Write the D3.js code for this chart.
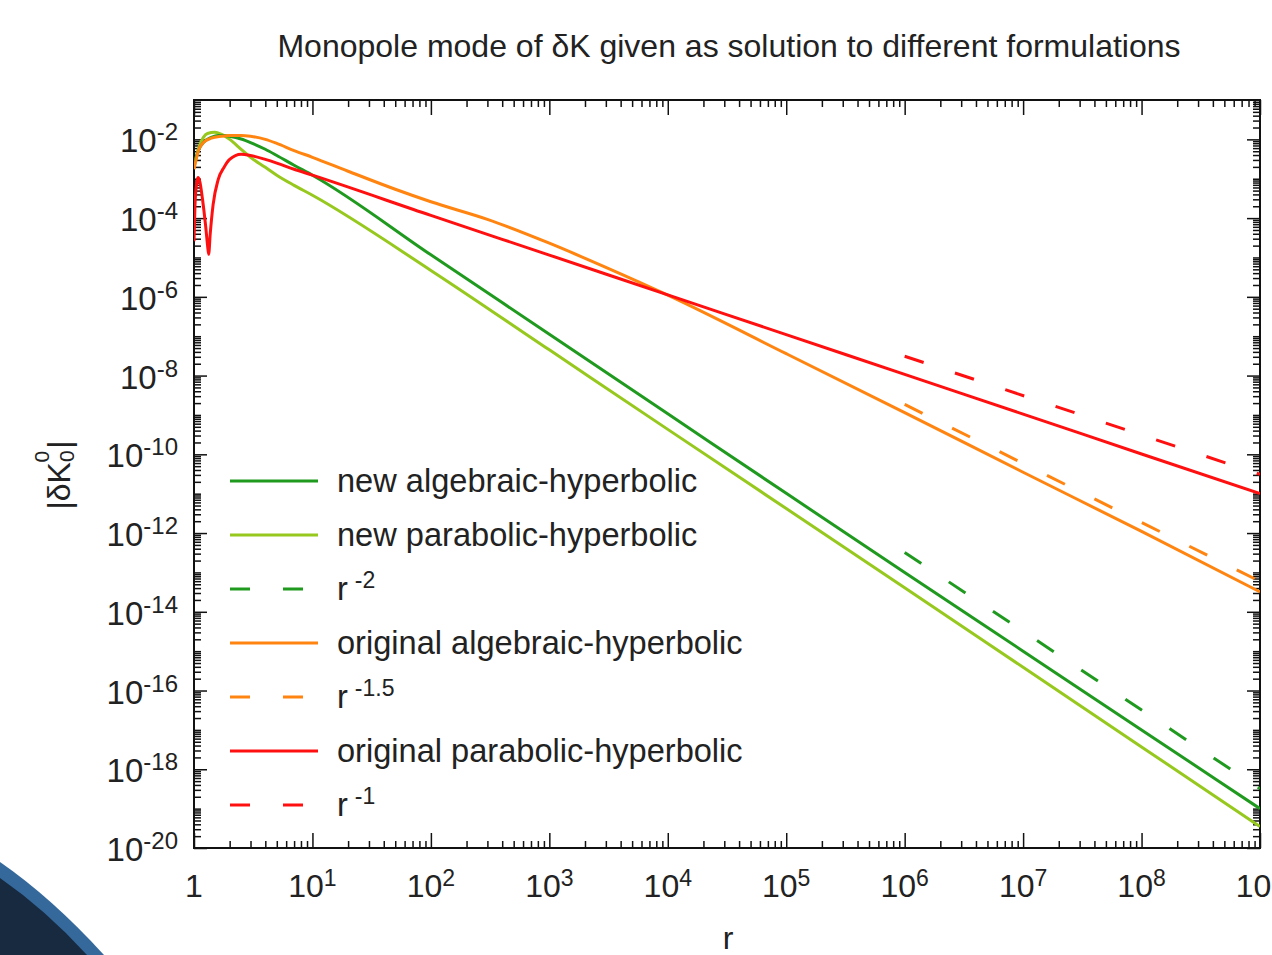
<!DOCTYPE html>
<html lang="en">
<head>
<meta charset="UTF-8">
<title>Monopole mode of dK</title>
<script src="https://d3js.org/d3.v7.min.js"></script>
<style>
    body { margin: 0; background: #fff; }
    text { font-family: "Liberation Sans", Arial, sans-serif; fill: #222; }
</style>
</head>
<body>
<svg id="chart" width="1272" height="955"></svg>
<script>
// ---- data ----
const xTicks = [1, 1e1, 1e2, 1e3, 1e4, 1e5, 1e6, 1e7, 1e8, 1e9];
const xTickExp = ["", "1", "2", "3", "4", "5", "6", "7", "8", "9"];
const yTicks = [1e-20, 1e-18, 1e-16, 1e-14, 1e-12, 1e-10, 1e-8, 1e-6, 1e-4, 1e-2];
const yTickExp = ["-20", "-18", "-16", "-14", "-12", "-10", "-8", "-6", "-4", "-2"];

const newAlgR = [1, 1.1, 1.2, 1.4, 1.6, 1.8, 2, 2.5, 3, 4, 5, 7, 10, 1e2, 1e3, 1e4, 1e5, 1e6, 1e7, 1e8, 1e9];
const newAlgV = [2.3e-3, 5.6e-3, 8.3e-3, 1.12e-2, 1.26e-2, 1.26e-2, 1.2e-2, 1.02e-2, 8.3e-3, 5.6e-3, 3.9e-3, 2.2e-3, 1.23e-3,
                 1.17e-5, 1.12e-7, 1.07e-9, 1.02e-11, 1.0e-13, 1.0e-15, 1.0e-17, 1.0e-19];

const newParR = [1, 1.1, 1.2, 1.3, 1.5, 1.7, 2, 2.5, 3, 4, 5, 7, 10, 1e2, 1e3, 1e4, 1e5, 1e6, 1e7, 1e8, 1e9];
const newParV = [1.95e-3, 6.3e-3, 1.12e-2, 1.41e-2, 1.51e-2, 1.35e-2, 1.0e-2, 5.6e-3, 3.5e-3, 1.95e-3, 1.23e-3, 6.8e-4, 3.8e-4,
                 4.7e-6, 4.5e-8, 4.3e-10, 4.2e-12, 4.1e-14, 3.9e-16, 3.7e-18, 3.5e-20];

const origAlgR = [1, 1.1, 1.2, 1.4, 1.7, 2, 2.5, 3, 4, 5, 7, 10, 20, 50, 100, 300, 1e3, 3e3, 1e4, 1e5, 1e6, 1e7, 1e8, 1e9];
const origAlgV = [1.74e-3, 5.6e-3, 8.3e-3, 1.07e-2, 1.2e-2, 1.26e-2, 1.26e-2, 1.2e-2, 1.0e-2, 7.9e-3, 5.2e-3, 3.5e-3, 1.55e-3,
                  5.4e-4, 2.6e-4, 9.3e-5, 2.3e-5, 5.6e-6, 1.1e-6, 3.6e-8, 1.15e-9, 3.5e-11, 1.1e-12, 3.2e-14];

const origParR = [1, 1.02, 1.05, 1.08, 1.12, 1.18, 1.25, 1.3, 1.33, 1.37, 1.45, 1.6, 1.8, 2, 2.5, 3, 4, 5, 7, 10,
                  1e2, 1e3, 1e4, 1e5, 1e6, 1e7, 1e8, 1e9];
const origParV = [2.6e-5, 2.2e-4, 7.2e-4, 1.07e-3, 8.5e-4, 3.0e-4, 6.9e-5, 2.1e-5, 1.2e-5, 3.9e-5, 2.2e-4, 9.5e-4, 2.0e-3,
                  3.1e-3, 4.2e-3, 3.9e-3, 3.1e-3, 2.5e-3, 1.74e-3, 1.23e-3,
                  1.17e-4, 1.15e-5, 1.12e-6, 1.1e-7, 1.07e-8, 1.05e-9, 1.02e-10, 1.0e-11];

const refR = [1e6, 1e9];
const refR2 = [3.2e-13, 3.2e-19];
const refR15 = [1.85e-9, 5.9e-14];
const refR1 = [3.1e-8, 3.1e-11];

const legendLabels = ["new algebraic-hyperbolic", "new parabolic-hyperbolic", "r", "original algebraic-hyperbolic", "r", "original parabolic-hyperbolic", "r"];
const legendExp = [null, null, "-2", null, "-1.5", null, "-1"];

// ---- styles ----
const darkGreen = "#1f9a1f", lightGreen = "#96c81e", orange = "#ff8410", red = "#ff1010";
const series = [
    { r: newAlgR, v: newAlgV, color: darkGreen, dash: null },
    { r: newParR, v: newParV, color: lightGreen, dash: null },
    { r: refR, v: refR2, color: darkGreen, dash: "20,33" },
    { r: origAlgR, v: origAlgV, color: orange, dash: null },
    { r: refR, v: refR15, color: orange, dash: "20,33" },
    { r: origParR, v: origParV, color: red, dash: null },
    { r: refR, v: refR1, color: red, dash: "20,33" }
];

const svg = d3.select('#chart');
const pLeft = 194, pRight = 1260, pTop = 100, pBottom = 848;

const x = d3.scaleLog().domain([1, 1e9]).range([pLeft, pRight]);
const y = d3.scaleLog().domain([1e-20, 1e-1]).range([pBottom, pTop]);

// slide decoration bottom-left
svg.append('path')
    .attr('d', 'M0,862 Q52,898 104,955 L0,955 Z')
    .attr('fill', '#35699b');
svg.append('path')
    .attr('d', 'M0,878 Q46,910 87,955 L0,955 Z')
    .attr('fill', '#172a40');

// title
svg.append('text')
    .attr('x', 729).attr('y', 57)
    .attr('text-anchor', 'middle')
    .attr('font-size', '32px')
    .text('Monopole mode of δK given as solution to different formulations');

// minor tick values
const xMinor = [];
for (let k = 0; k < 9; k++) for (let d = 2; d <= 9; d++) xMinor.push(d * Math.pow(10, k));
const yMinor = [];
for (let k = -20; k < -1; k++) for (let d = 1; d <= 9; d++) {
    if (d === 1 && k % 2 === 0) continue;
    yMinor.push(d * Math.pow(10, k));
}

function tickAxis(axis, tr) {
    const g = svg.append('g').attr('transform', tr).call(axis);
    g.select('.domain').remove();
    g.selectAll('line').attr('stroke', '#111').attr('stroke-width', 1.5);
    g.selectAll('text').remove();
}
tickAxis(d3.axisBottom(x).tickValues(xTicks).tickSize(-15), `translate(0,${pBottom})`);
tickAxis(d3.axisBottom(x).tickValues(xMinor).tickSize(-7), `translate(0,${pBottom})`);
tickAxis(d3.axisTop(x).tickValues(xTicks).tickSize(-15), `translate(0,${pTop})`);
tickAxis(d3.axisTop(x).tickValues(xMinor).tickSize(-7), `translate(0,${pTop})`);
tickAxis(d3.axisLeft(y).tickValues(yTicks).tickSize(-13), `translate(${pLeft},0)`);
tickAxis(d3.axisLeft(y).tickValues(yMinor).tickSize(-7), `translate(${pLeft},0)`);
tickAxis(d3.axisRight(y).tickValues(yTicks).tickSize(-13), `translate(${pRight},0)`);
tickAxis(d3.axisRight(y).tickValues(yMinor).tickSize(-7), `translate(${pRight},0)`);

// frame
svg.append('rect')
    .attr('x', pLeft).attr('y', pTop)
    .attr('width', pRight - pLeft).attr('height', pBottom - pTop)
    .attr('fill', 'none').attr('stroke', '#111').attr('stroke-width', 2);

// x tick labels
xTicks.forEach((t, i) => {
    const txt = svg.append('text')
        .attr('x', x(t)).attr('y', 897)
        .attr('text-anchor', 'middle')
        .attr('font-size', '32px');
    if (i === 0) { txt.text('1'); return; }
    txt.append('tspan').text('10');
    txt.append('tspan').attr('dy', -11).attr('font-size', '23px').text(xTickExp[i]);
});

// y tick labels
yTicks.forEach((t, i) => {
    const txt = svg.append('text')
        .attr('x', 178).attr('y', y(t) + 13)
        .attr('text-anchor', 'end')
        .attr('font-size', '33px');
    txt.append('tspan').text('10');
    txt.append('tspan').attr('dy', -12).attr('font-size', '24px').text(yTickExp[i]);
});

// axis titles
svg.append('text')
    .attr('x', 728).attr('y', 949)
    .attr('text-anchor', 'middle')
    .attr('font-size', '32px')
    .text('r');

const yl = svg.append('text')
    .attr('transform', 'translate(70,475) rotate(-90)')
    .attr('text-anchor', 'middle')
    .attr('font-size', '32px');
yl.append('tspan').text('|δK');
yl.append('tspan').attr('dy', 4).attr('font-size', '21px').text('0');
yl.append('tspan').attr('dx', -12).attr('dy', -25).attr('font-size', '21px').text('0');
yl.append('tspan').attr('dx', 2).attr('dy', 21).text('|');

// curves
svg.append('clipPath').attr('id', 'plotClip')
    .append('rect')
    .attr('x', pLeft).attr('y', pTop)
    .attr('width', pRight - pLeft).attr('height', pBottom - pTop);

const line = d3.line()
    .x(d => x(d[0]))
    .y(d => y(d[1]))
    .curve(d3.curveMonotoneX);

const drawOrder = [6, 4, 2, 1, 0, 3, 5];
const plot = svg.append('g').attr('clip-path', 'url(#plotClip)');
drawOrder.forEach(i => {
    const s = series[i];
    plot.append('path')
        .datum(s.r.map((r, j) => [r, s.v[j]]))
        .attr('d', line)
        .attr('fill', 'none')
        .attr('stroke', s.color)
        .attr('stroke-width', 3)
        .attr('stroke-dasharray', s.dash);
});

// legend
const legendY = [481, 535, 589, 643, 697, 751, 805];
legendLabels.forEach((lab, i) => {
    svg.append('line')
        .attr('x1', 230).attr('x2', 318)
        .attr('y1', legendY[i]).attr('y2', legendY[i])
        .attr('stroke', series[i].color)
        .attr('stroke-width', 3)
        .attr('stroke-dasharray', series[i].dash);
    const txt = svg.append('text')
        .attr('x', 337).attr('y', legendY[i] + 11)
        .attr('font-size', '32.6px');
    txt.append('tspan').text(lab);
    if (legendExp[i]) {
        txt.append('tspan').attr('dx', 7).attr('dy', -12).attr('font-size', '23px').text(legendExp[i]);
    }
});
</script>
</body>
</html>
